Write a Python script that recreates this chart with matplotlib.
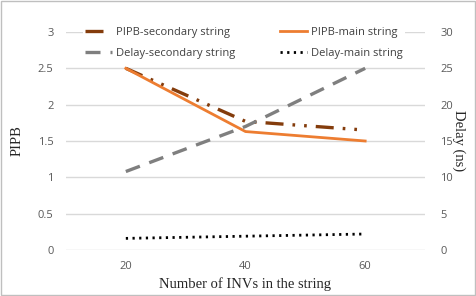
import numpy as np
import matplotlib.pyplot as plt

# data
n_invs = ['20', '40', '60']
pipb_secondary = [2.5, 1.77, 1.65]
pipb_main = [2.5, 1.63, 1.5]
delay_secondary = [10.8, 17.0, 25.0]
delay_main = [1.6, 1.9, 2.2]

tick_font = 'Open Sans'
label_font = 'Liberation Serif'
tick_col = '#595959'
grid_col = '#D9D9D9'

fig = plt.figure(figsize=(4.76, 2.96), dpi=100)
ax = fig.add_axes([66 / 476, 1 - 250 / 296, (425 - 66) / 476, (250 - 32) / 296])
ax2 = ax.twinx()

x = np.arange(1, len(n_invs) + 1)

l1, = ax.plot(x, pipb_secondary, color='#843C0C', lw=2.4, dashes=(5.4, 2.7, 0.8, 2.7, 0.8, 2.7),
              label='PIPB-secondary string', zorder=3)
l2, = ax.plot(x, pipb_main, color='#ED7D31', lw=2, label='PIPB-main string', zorder=3)
l3, = ax2.plot(x, delay_secondary, color='#7F7F7F', lw=2.4, dashes=(4.5, 3),
               label='Delay-secondary string')
l4, = ax2.plot(x, delay_main, color='black', lw=2, dashes=(0.8, 1.6),
               label='Delay-main string')

ax.set_xlim(0.5, 3.5)
ax.set_ylim(0, 3)
ax2.set_ylim(0, 30)
ax.set_yticks([0, 0.5, 1, 1.5, 2, 2.5, 3])
ax.set_yticklabels(['0', '0.5', '1', '1.5', '2', '2.5', '3'])
ax2.set_yticks([0, 5, 10, 15, 20, 25, 30])
ax.set_xticks(x)
ax.set_xticklabels(n_invs)

ax.grid(axis='y', color=grid_col, lw=1)
ax.set_axisbelow(True)
for a in (ax, ax2):
    for s in a.spines.values():
        s.set_visible(False)
    a.tick_params(length=0, labelsize=8, colors=tick_col)
    for t in a.get_xticklabels() + a.get_yticklabels():
        t.set_fontfamily(tick_font)
ax.tick_params(axis='y', pad=9)
ax2.tick_params(axis='y', pad=11)
ax.tick_params(axis='x', pad=8)

ax.set_xlabel('Number of INVs in the string', fontfamily=label_font, fontsize=10.5,
              color='#262626', labelpad=4)
ax.set_ylabel('PIPB', fontfamily=label_font, fontsize=10.5, color='#262626', labelpad=10)
ax2.set_ylabel('Delay (ns)', fontfamily=label_font, fontsize=10.5, color='#262626',
               rotation=-90, labelpad=9)

leg = ax2.legend(handles=[l1, l3, l2, l4], ncol=2, loc='center',
                 bbox_to_anchor=(244 / 476, 1 - 43 / 296), bbox_transform=fig.transFigure,
                 frameon=True, facecolor='white', edgecolor='none', framealpha=1,
                 fancybox=False, handlelength=2.4, handletextpad=0.4,
                 columnspacing=4.0, labelspacing=0.9, borderpad=0.2,
                 prop={'family': tick_font, 'size': 8})
for t in leg.get_texts():
    t.set_color('#404040')

# thin grey border round the whole picture
fig.patches.append(plt.Rectangle((0.002, 0.003), 0.996, 0.994, transform=fig.transFigure,
                                 fill=False, edgecolor='#BFBFBF', lw=1))

fig.savefig('out.png', dpi=100)
